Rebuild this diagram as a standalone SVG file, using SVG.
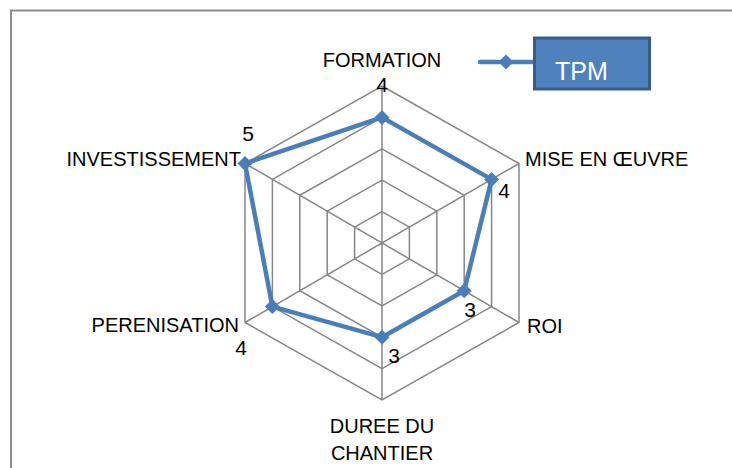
<svg xmlns="http://www.w3.org/2000/svg" width="732" height="468" viewBox="0 0 732 468">
  <defs>
    <style>
      .frame { fill: none; stroke: #8c8c8c; stroke-width: 2; }
      .grid { fill: none; stroke: #868686; stroke-width: 1.5; }
      .series { fill: none; stroke: #4a7ebb; stroke-width: 4.5; stroke-linejoin: round; }
      .cat { font-family: "Liberation Sans", Arial, sans-serif; font-size: 20px; fill: #000; }
      .val { font-family: "Liberation Sans", Arial, sans-serif; font-size: 21px; fill: #000; }
      .legend-text { font-family: "Liberation Sans", Arial, sans-serif; font-size: 25px; fill: #fff; }
    </style>
    <marker id="dia" markerUnits="userSpaceOnUse" markerWidth="18" markerHeight="18" refX="9" refY="9" orient="0">
      <path d="M9 1.5 L16.5 9 L9 16.5 L1.5 9 Z" fill="#4a7ebb"/>
    </marker>
  </defs>

  <rect width="732" height="468" fill="#fff"/>
  <!-- chart area border (clipped at right and bottom) -->
  <path class="frame" d="M11 468 V10.5 H732"/>

  <!-- radar grid: five concentric hexagons and six spokes, centre (382,243) -->
  <g id="grid">
    <polygon class="grid" points="382,86 519,163.5 519,322.5 382,400 245,322.5 245,163.5"/>
    <polygon class="grid" points="382,117.4 491.6,179.4 491.6,306.6 382,368.6 272.4,306.6 272.4,179.4"/>
    <polygon class="grid" points="382,148.8 464.2,195.3 464.2,290.7 382,337.2 299.8,290.7 299.8,195.3"/>
    <polygon class="grid" points="382,180.2 436.8,211.2 436.8,274.8 382,305.8 327.2,274.8 327.2,211.2"/>
    <polygon class="grid" points="382,211.6 409.4,227.1 409.4,258.9 382,274.4 354.6,258.9 354.6,227.1"/>
    <path class="grid" d="M382 86 V400 M245 163.5 L519 322.5 M245 322.5 L519 163.5"/>
  </g>

  <!-- TPM series -->
  <g id="series-tpm">
    <polygon class="series" points="382,117.4 491.6,179.4 464.2,290.7 382,337.2 272.4,306.6 245,163.5"/>
    <path d="M382 117.4 L491.6 179.4 L464.2 290.7 L382 337.2 L272.4 306.6 L245 163.5" fill="none" stroke="none"
          marker-start="url(#dia)" marker-mid="url(#dia)" marker-end="url(#dia)"/>
  </g>

  <!-- category labels -->
  <g id="axis-formation">
    <text class="cat" x="382" y="67" text-anchor="middle">FORMATION</text>
    <text class="val" x="382" y="92" text-anchor="middle">4</text>
  </g>
  <g id="axis-mise-en-oeuvre">
    <text class="cat" x="525" y="166">MISE EN ŒUVRE</text>
    <text class="val" x="504" y="198" text-anchor="middle">4</text>
  </g>
  <g id="axis-roi">
    <text class="cat" x="527" y="333">ROI</text>
    <text class="val" x="470" y="317" text-anchor="middle">3</text>
  </g>
  <g id="axis-duree">
    <text class="cat" x="382" y="433" text-anchor="middle">DUREE DU</text>
    <text class="cat" x="382" y="460" text-anchor="middle">CHANTIER</text>
    <text class="val" x="394" y="363" text-anchor="middle">3</text>
  </g>
  <g id="axis-perenisation">
    <text class="cat" x="239" y="332" text-anchor="end">PERENISATION</text>
    <text class="val" x="241" y="355" text-anchor="middle">4</text>
  </g>
  <g id="axis-investissement">
    <text class="cat" x="241" y="166" text-anchor="end">INVESTISSEMENT</text>
    <text class="val" x="248" y="141" text-anchor="middle">5</text>
  </g>

  <!-- legend -->
  <g id="legend">
    <path d="M480 62 L506 62 L534 62" stroke="#4a7ebb" stroke-width="4.5" stroke-linecap="round" fill="none" marker-mid="url(#dia)"/>
    <rect x="534.5" y="38" width="115" height="51" fill="#4f81bd" stroke="#385d8a" stroke-width="3"/>
    <text class="legend-text" x="555" y="80">TPM</text>
  </g>
</svg>
